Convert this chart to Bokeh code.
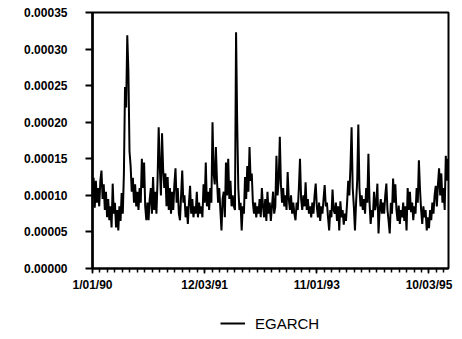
from bokeh.plotting import figure
from bokeh.layouts import column
from bokeh.models import FixedTicker, Range1d, Legend, LegendItem
from bokeh.embed import file_html
from bokeh.resources import INLINE

# EGARCH conditional variance (units of 1e-5), one value per week
egarch_1e5 = [
    9.7, 12.4, 8.3, 12.0, 9.0, 11.0, 8.5, 12.0, 13.4, 9.5,
    11.5, 8.0, 10.5, 7.0, 9.5, 6.6, 8.5, 5.6, 11.6, 7.5,
    9.0, 5.6, 8.0, 5.2, 8.5, 6.5, 10.3, 7.5, 13.0, 24.8,
    22.0, 31.9, 27.0, 16.0, 14.0, 10.5, 12.4, 9.0, 11.5, 8.5,
    10.5, 8.0, 11.0, 9.0, 15.0, 11.0, 14.5, 8.5, 6.6, 9.0,
    6.6, 9.5, 11.0, 7.5, 12.5, 8.0, 10.5, 7.5, 12.0, 19.3,
    14.0, 10.0, 18.5, 13.5, 11.0, 13.0, 8.5, 12.5, 8.0, 11.0,
    7.5, 10.5, 8.0, 11.5, 13.7, 9.0, 11.0, 7.5, 6.6, 10.0,
    13.4, 9.0, 10.0, 7.0, 8.5, 6.1, 9.0, 11.3, 7.5, 9.5,
    7.0, 8.5, 7.5, 10.5, 7.0, 9.0, 7.5, 8.5, 7.0, 11.5,
    9.0, 14.5, 8.5, 10.5, 8.0, 11.0, 9.0, 20.0, 13.0, 11.5,
    16.6, 12.0, 9.0, 11.0, 8.0, 5.2, 9.5, 10.5, 7.0, 14.5,
    10.0, 15.0, 9.5, 12.0, 8.5, 10.0, 8.5, 8.0, 32.3, 20.0,
    11.0, 8.0, 9.0, 5.2, 8.5, 7.5, 12.5, 9.5, 14.0, 10.5,
    16.6, 12.0, 13.0, 9.0, 7.5, 9.0, 7.0, 8.5, 7.5, 9.5,
    7.0, 11.0, 8.5, 7.0, 9.5, 6.5, 10.5, 7.5, 9.0, 6.5,
    8.5, 10.5, 7.5, 8.5, 15.4, 10.0, 12.0, 18.0, 11.5, 9.0,
    11.0, 8.5, 10.0, 8.0, 13.2, 9.5, 8.0, 10.0, 7.5, 9.0,
    7.5, 6.6, 9.0, 8.0, 11.0, 15.0, 9.5, 8.0, 10.0, 8.5,
    11.8, 8.0, 9.5, 7.5, 8.5, 7.0, 9.0, 7.5, 10.0, 11.6,
    8.5, 7.0, 9.0, 6.5, 8.5, 7.5, 9.5, 11.4, 8.5, 9.0,
    7.0, 5.2, 8.0, 7.0, 10.8, 8.0, 7.5, 9.0, 6.5, 8.5,
    5.2, 9.2, 7.0, 8.0, 6.0, 7.5, 6.5, 9.0, 12.0, 10.0,
    14.0, 19.3, 11.0, 8.5, 5.2, 9.0, 12.0, 19.7, 11.0, 8.5,
    10.0, 8.0, 9.5, 7.5, 11.0, 9.0, 15.7, 9.0, 6.1, 8.0,
    7.0, 10.5, 8.0, 9.0, 11.6, 4.8, 8.0, 9.5, 7.5, 9.0,
    7.5, 10.0, 11.6, 8.0, 6.5, 4.8, 9.0, 7.5, 12.3, 9.0,
    11.5, 8.0, 6.5, 8.6, 6.1, 8.0, 7.0, 9.0, 6.5, 8.5,
    5.2, 11.0, 8.0, 10.5, 7.7, 9.0, 6.6, 8.5, 7.5, 11.0,
    9.0, 14.8, 10.8, 8.0, 6.1, 8.5, 7.0, 8.0, 5.2, 7.0,
    5.5, 8.0, 6.6, 9.0, 7.5, 10.0, 11.3, 8.5, 11.5, 13.7,
    10.0, 13.0, 9.0, 11.0, 8.0, 15.4, 12.0, 15.0,
]
weeks = list(range(len(egarch_1e5)))
variance = [v * 1e-5 for v in egarch_1e5]

x_major_ticks = [0, 100, 200, 300]
x_major_labels = ["1/01/90", "12/03/91", "11/01/93", "10/03/95"]
x_minor_step = 100 / 15
x_minor_ticks = [i * x_minor_step for i in range(48)]

y_ticks = [0.0, 0.00005, 0.00010, 0.00015, 0.00020, 0.00025, 0.00030, 0.00035]
y_labels = ["0.00000", "0.00005", "0.00010", "0.00015", "0.00020", "0.00025", "0.00030", "0.00035"]

FONT = "Liberation Sans"

p = figure(width=462, height=296, output_backend="svg", toolbar_location=None,
           x_range=Range1d(0, 317.4), y_range=Range1d(0, 0.00035),
           min_border_left=92, min_border_right=14, min_border_top=12, min_border_bottom=28)

r = p.line(weeks, variance, line_color="black", line_width=2)

p.xgrid.visible = False
p.ygrid.visible = False
p.outline_line_color = "black"
p.outline_line_width = 2
p.background_fill_color = "white"
p.border_fill_color = "white"

xa = p.xaxis[0]
xa.ticker = FixedTicker(ticks=x_major_ticks, minor_ticks=x_minor_ticks)
xa.major_label_overrides = {t: l for t, l in zip(x_major_ticks, x_major_labels)}
xa.axis_line_width = 2
xa.major_tick_line_width = 1.5
xa.minor_tick_line_width = 1.5
xa.major_tick_in = 0
xa.major_tick_out = 5
xa.minor_tick_in = 0
xa.minor_tick_out = 4
xa.major_label_standoff = 4
xa.major_label_text_font = FONT
xa.major_label_text_font_style = "bold"
xa.major_label_text_font_size = "12px"
xa.major_label_text_color = "black"

ya = p.yaxis[0]
ya.ticker = FixedTicker(ticks=y_ticks, minor_ticks=[])
ya.major_label_overrides = {t: l for t, l in zip(y_ticks, y_labels)}
ya.axis_line_width = 2.5
ya.major_tick_line_width = 2
ya.major_tick_in = 0
ya.major_tick_out = 7
ya.minor_tick_out = 0
ya.major_label_standoff = 18
ya.major_label_text_font = FONT
ya.major_label_text_font_style = "bold"
ya.major_label_text_font_size = "12px"
ya.major_label_text_color = "black"

# legend strip below the chart (its frame is aligned with the chart frame by the column layout);
# the series is drawn there too but lies outside that strip's range, so only the legend key shows
leg = figure(width=462, height=43, output_backend="svg", toolbar_location=None,
             x_axis_location=None, y_axis_location=None, min_border=0,
             x_range=Range1d(0, 317.4), y_range=Range1d(1.0, 2.0))
leg.outline_line_color = None
leg.background_fill_color = "white"
leg.border_fill_color = "white"
for g in leg.grid:
    g.visible = False
key = leg.line(weeks, variance, line_color="black", line_width=2)
legend = Legend(items=[LegendItem(label="EGARCH", renderers=[key])],
                location=(128, 6), orientation="horizontal",
                glyph_width=25, glyph_height=20, label_height=20, label_standoff=10,
                padding=0, margin=0, spacing=0,
                border_line_alpha=0, background_fill_alpha=0,
                label_text_font=FONT, label_text_font_size="15px", label_text_color="black")
leg.add_layout(legend, "center")

open("out.html", "w").write(file_html(column(p, leg, spacing=0), INLINE))
